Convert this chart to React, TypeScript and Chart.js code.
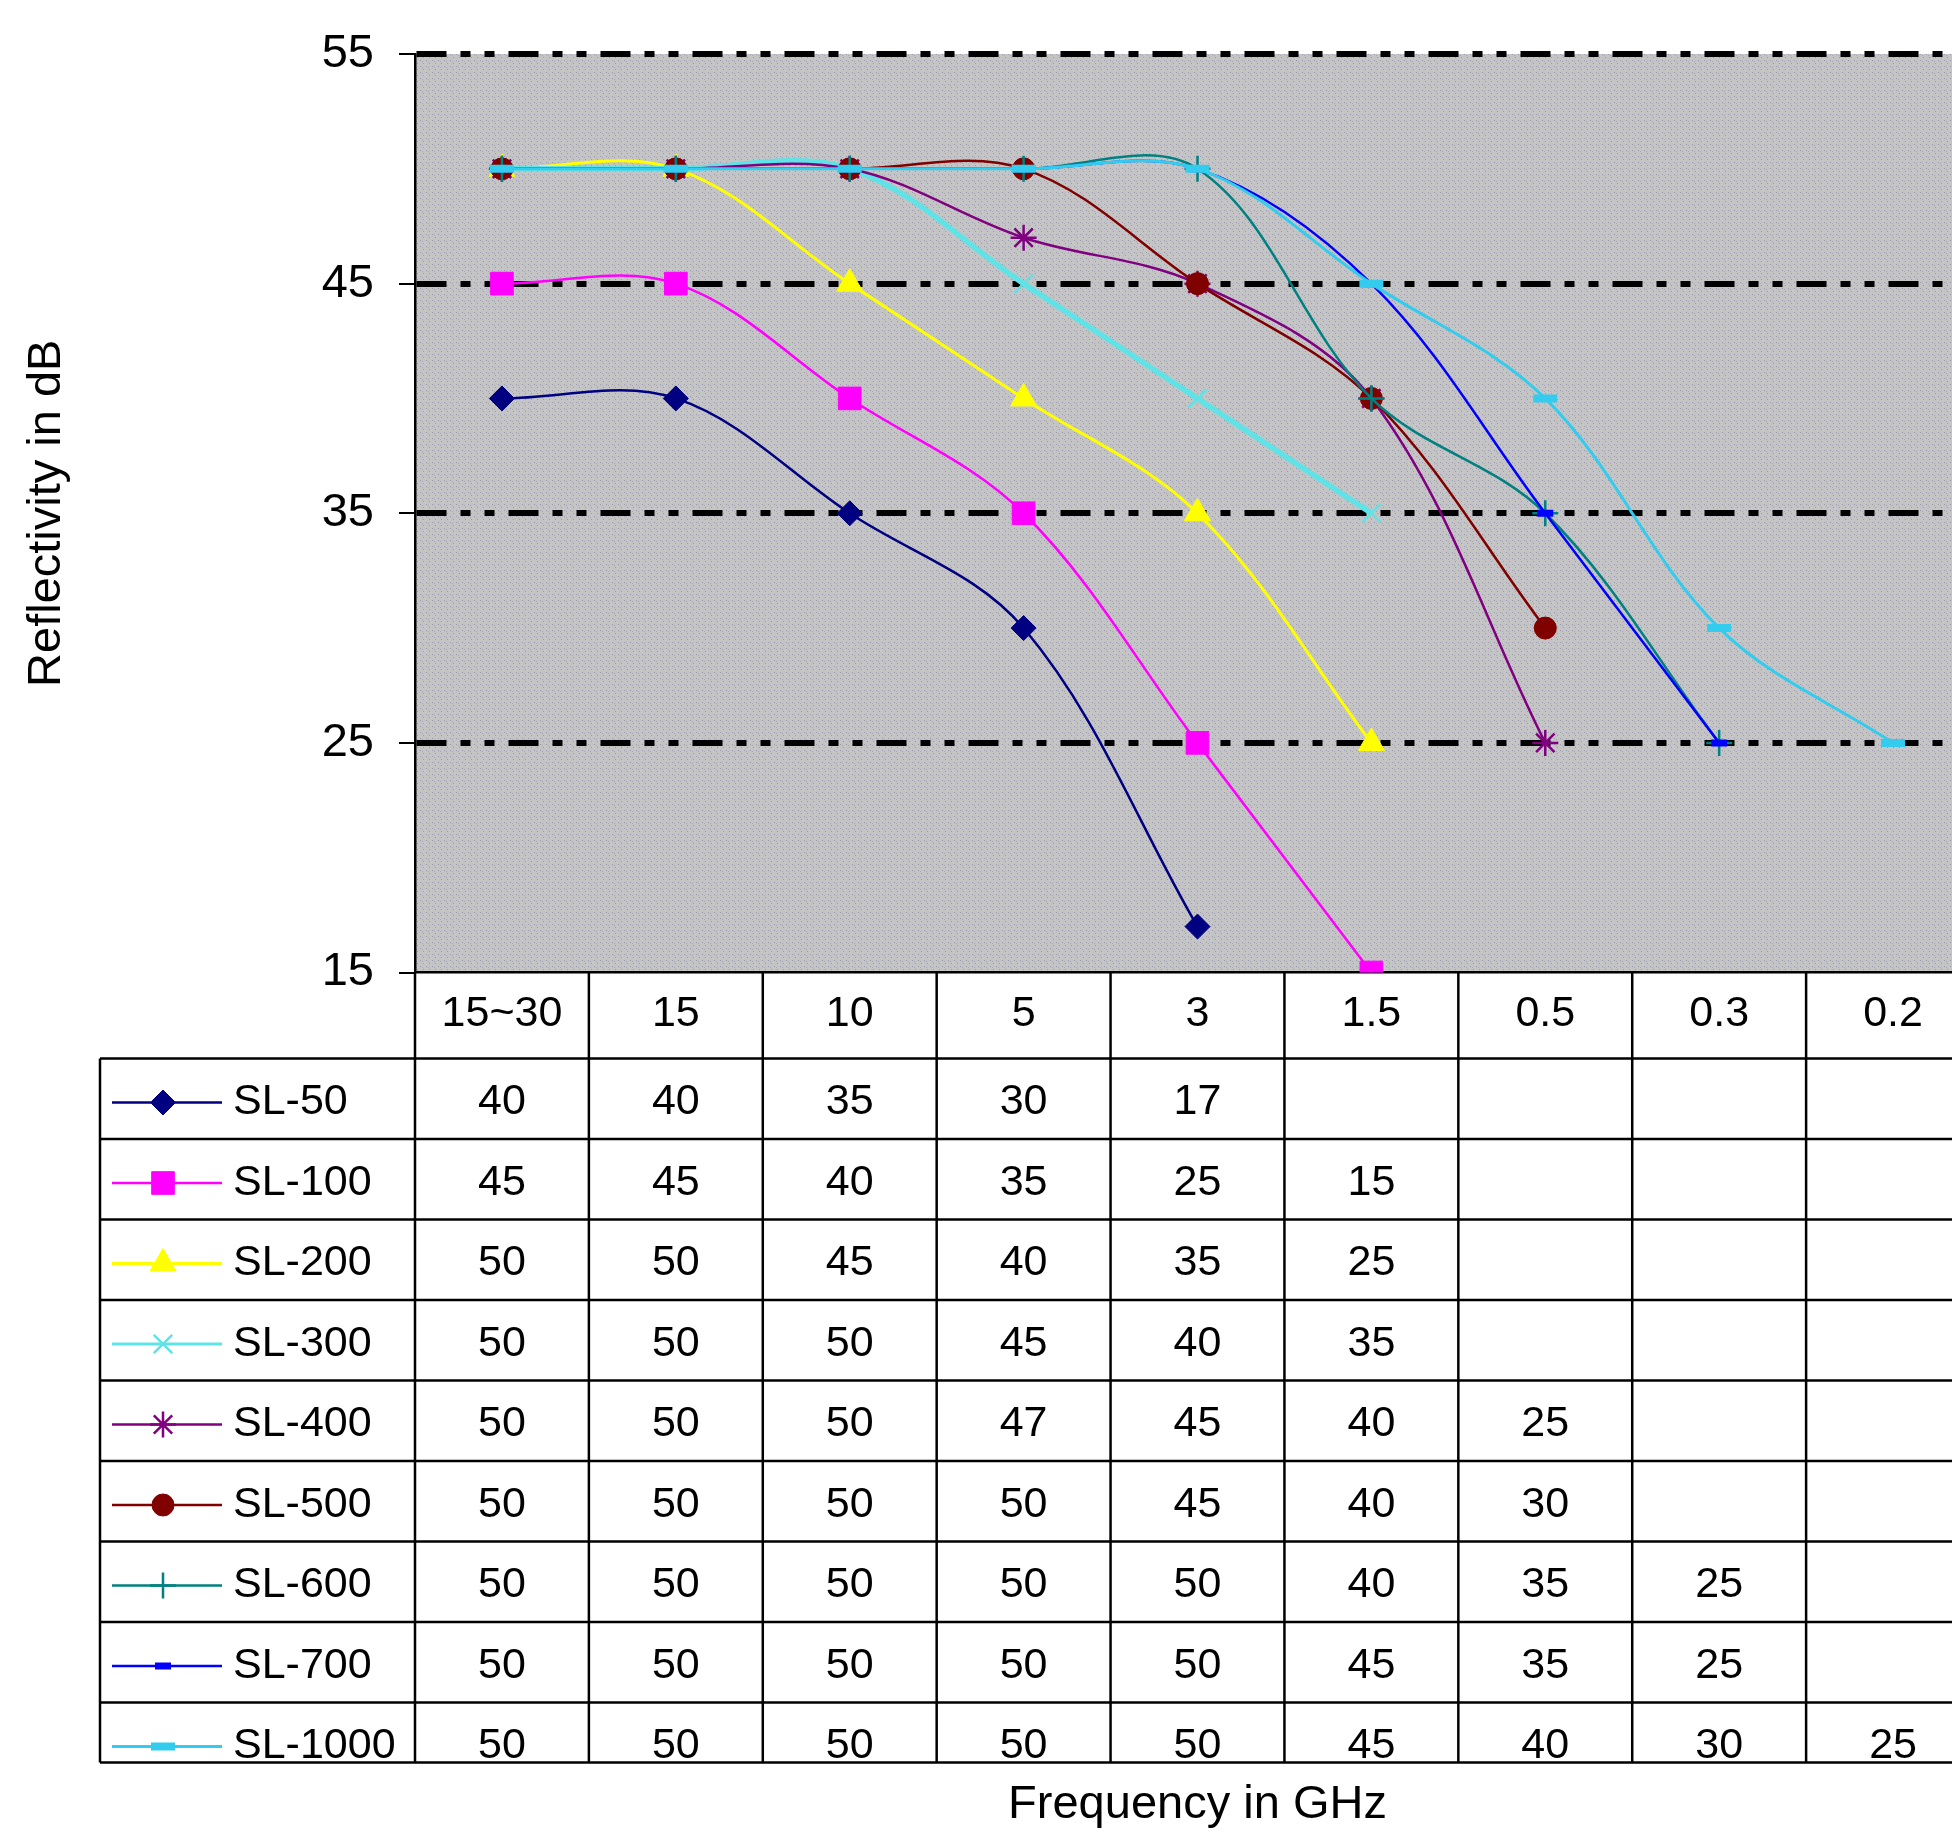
import React, { useEffect, useRef } from 'react';
import { Chart, registerables } from 'chart.js';
import { drawPoint } from 'chart.js/helpers';

Chart.register(...registerables);

// ---------- data ----------
const categories = ['15~30', '15', '10', '5', '3', '1.5', '0.5', '0.3', '0.2'];
const seriesNames = ['SL-50', 'SL-100', 'SL-200', 'SL-300', 'SL-400', 'SL-500', 'SL-600', 'SL-700', 'SL-1000'];
const sl50 = [40, 40, 35, 30, 17, null, null, null, null];
const sl100 = [45, 45, 40, 35, 25, 15, null, null, null];
const sl200 = [50, 50, 45, 40, 35, 25, null, null, null];
const sl300 = [50, 50, 50, 45, 40, 35, null, null, null];
const sl400 = [50, 50, 50, 47, 45, 40, 25, null, null];
const sl500 = [50, 50, 50, 50, 45, 40, 30, null, null];
const sl600 = [50, 50, 50, 50, 50, 40, 35, 25, null];
const sl700 = [50, 50, 50, 50, 50, 45, 35, 25, null];
const sl1000 = [50, 50, 50, 50, 50, 45, 40, 30, 25];
const seriesValues = [sl50, sl100, sl200, sl300, sl400, sl500, sl600, sl700, sl1000];
const yTicks = [15, 25, 35, 45, 55];

// ---------- styles ----------
const FONT = "'Liberation Sans', Arial, Helvetica, sans-serif";
const colors = ['#000080', '#ff00ff', '#ffff00', '#5fe3e6', '#800080', '#800000', '#008080', '#0000ff', '#33ccee'];
const pointStyles = ['rectRot', 'rect', 'triangle', 'crossRot', 'star', 'circle', 'cross', 'line', 'line'];
const pointRadii = [12.5, 16, 15, 13, 13, 11, 13, 8, 12];
const pointBorders = [1, 1, 1, 2.5, 2.5, 1, 2.5, 7, 8];
const lineWidths = [2.5, 2.5, 3, 5.5, 2.5, 2.5, 2.5, 2.5, 3];

const CANVAS_W = 2000;
const CANVAS_H = 1835;
const Y_AXIS_W = 415;
const PLOT_TOP = 54;
const PLOT_BOTTOM = 972.5;
const HEADER_H = 86;
const ROW_H = 80.5;
const LAST_ROW_H = 60;
const TABLE_LEFT = 100;
const KEY_X1 = 112;
const KEY_X2 = 222;
const KEY_MARK = 163;
const NAME_X = 233;
const TABLE_FONT = 43;

let patternCache: CanvasPattern | null = null;
function getPattern(ctx: CanvasRenderingContext2D) {
  if (patternCache) return patternCache;
  const c = document.createElement('canvas');
  c.width = 6;
  c.height = 6;
  const p = c.getContext('2d')!;
  p.fillStyle = '#c4c4c4';
  p.fillRect(0, 0, 6, 6);
  const dots: [number, number, string][] = [
    [0, 0, '#9a9ab4'], [3, 3, '#9a9ab4'], [1, 4, '#d6b6cc'], [4, 1, '#b4d2c6'], [2, 1, '#a8a8a8'], [5, 4, '#cfcfb0'],
  ];
  dots.forEach(([x, y, col]) => {
    p.fillStyle = col;
    p.fillRect(x, y, 1, 1);
  });
  patternCache = ctx.createPattern(c, 'repeat');
  return patternCache;
}

const bgPlugin = {
  id: 'plotBg',
  beforeDraw(chart: any) {
    const { ctx, chartArea: a } = chart;
    ctx.save();
    ctx.fillStyle = getPattern(ctx) || '#c4c4c4';
    ctx.fillRect(a.left, a.top, a.right - a.left, a.bottom - a.top);
    ctx.restore();
  },
};

const tablePlugin = {
  id: 'dataTable',
  afterDraw(chart: any) {
    const { ctx, chartArea: a } = chart;
    const x = chart.scales.x;
    const n = categories.length;
    const half = (x.getPixelForValue(1) - x.getPixelForValue(0)) / 2;
    const bounds: number[] = [];
    for (let i = 0; i < n; i++) bounds.push(x.getPixelForValue(i) - half);
    bounds.push(x.getPixelForValue(n - 1) + half);
    const right = bounds[bounds.length - 1];
    const headerBottom = a.bottom + HEADER_H;
    const rows = seriesNames.length;
    const tableBottom = headerBottom + ROW_H * (rows - 1) + LAST_ROW_H;

    const line = (x1: number, y1: number, x2: number, y2: number) => {
      ctx.beginPath();
      ctx.moveTo(x1, y1);
      ctx.lineTo(x2, y2);
      ctx.stroke();
    };

    ctx.save();
    ctx.strokeStyle = '#000';
    ctx.lineWidth = 2.5;
    bounds.forEach((b) => line(b, a.bottom, b, tableBottom));
    line(TABLE_LEFT, headerBottom, TABLE_LEFT, tableBottom);
    for (let k = 0; k < rows; k++) {
      const yy = headerBottom + k * ROW_H;
      line(TABLE_LEFT, yy, right, yy);
    }
    line(TABLE_LEFT, tableBottom, right, tableBottom);

    ctx.font = `${TABLE_FONT}px ${FONT}`;
    ctx.textBaseline = 'middle';
    ctx.fillStyle = '#000';
    for (let k = 0; k < rows; k++) {
      const yc = headerBottom + k * ROW_H + 44;
      // legend key
      ctx.save();
      ctx.strokeStyle = colors[k];
      ctx.lineWidth = Math.min(lineWidths[k], 3);
      line(KEY_X1, yc, KEY_X2, yc);
      ctx.fillStyle = colors[k];
      ctx.lineWidth = pointBorders[k];
      drawPoint(ctx, {
        pointStyle: pointStyles[k],
        radius: pointRadii[k],
        rotation: 0,
        borderWidth: pointBorders[k],
      } as any, KEY_MARK, yc);
      ctx.restore();
      ctx.fillStyle = '#000';
      ctx.textAlign = 'left';
      ctx.fillText(seriesNames[k], NAME_X, yc);
      ctx.textAlign = 'center';
      seriesValues[k].forEach((v, i) => {
        if (v === null || v === undefined) return;
        ctx.fillText(String(v), x.getPixelForValue(i), yc);
      });
    }
    ctx.restore();
  },
};

export default function App() {
  const canvasRef = useRef<HTMLCanvasElement | null>(null);

  useEffect(() => {
    if (!canvasRef.current) return;
    Chart.defaults.font.family = FONT;
    const datasets = seriesNames.map((name, i) => ({
      label: name,
      data: seriesValues[i],
      borderColor: colors[i],
      backgroundColor: colors[i],
      borderWidth: lineWidths[i],
      pointStyle: pointStyles[i] as any,
      pointRadius: pointRadii[i],
      pointBorderWidth: pointBorders[i],
      pointBorderColor: colors[i],
      pointBackgroundColor: colors[i],
      tension: 0.35,
      fill: false,
      order: seriesNames.length - 1 - i,
    }));

    const chart = new Chart(canvasRef.current, {
      type: 'line',
      data: { labels: categories, datasets },
      options: {
        animation: false,
        responsive: false,
        devicePixelRatio: 1,
        layout: { padding: { top: PLOT_TOP, left: 0, right: 0, bottom: 0 } },
        plugins: {
          legend: { display: false },
          tooltip: { enabled: false },
          title: { display: false },
        },
        scales: {
          x: {
            type: 'category',
            offset: true,
            grid: { display: false, drawTicks: false },
            border: { display: true, color: '#000', width: 2.5 },
            ticks: {
              color: '#000',
              font: { family: FONT, size: TABLE_FONT },
              padding: 16,
              maxRotation: 0,
              autoSkip: false,
            },
            title: {
              display: true,
              text: 'Frequency in GHz',
              color: '#000',
              font: { family: FONT, size: 47 },
              padding: { top: 0, bottom: 2 },
            },
            afterFit: (s: any) => {
              s.height = CANVAS_H - PLOT_BOTTOM;
            },
          },
          y: {
            type: 'linear',
            min: 15,
            max: 55,
            afterBuildTicks: (s: any) => {
              s.ticks = yTicks.map((v) => ({ value: v }));
            },
            ticks: {
              color: '#000',
              font: { family: FONT, size: 47 },
              padding: 25,
            },
            grid: {
              display: true,
              drawOnChartArea: true,
              drawTicks: true,
              color: '#000',
              lineWidth: (c: any) => (c.tick && c.tick.value === 15 ? 0 : 6),
              tickColor: '#000',
              tickWidth: 2,
              tickLength: 16,
            },
            border: { display: true, color: '#000', width: 2.5, dash: [30, 14, 10, 14, 10, 14] },
            title: {
              display: true,
              text: 'Reflectivity in dB',
              color: '#000',
              font: { family: FONT, size: 47 },
              padding: { top: 19, bottom: 0 },
            },
            afterFit: (s: any) => {
              s.width = Y_AXIS_W;
            },
          },
        },
      },
      plugins: [bgPlugin, tablePlugin],
    } as any);

    return () => chart.destroy();
  }, []);

  return (
    <div
      style={{
        position: 'absolute',
        left: 0,
        top: 0,
        width: 1952,
        height: 1835,
        overflow: 'hidden',
        background: '#fff',
      }}
    >
      <canvas
        ref={canvasRef}
        width={CANVAS_W}
        height={CANVAS_H}
        style={{ display: 'block', width: CANVAS_W, height: CANVAS_H }}
      />
    </div>
  );
}
